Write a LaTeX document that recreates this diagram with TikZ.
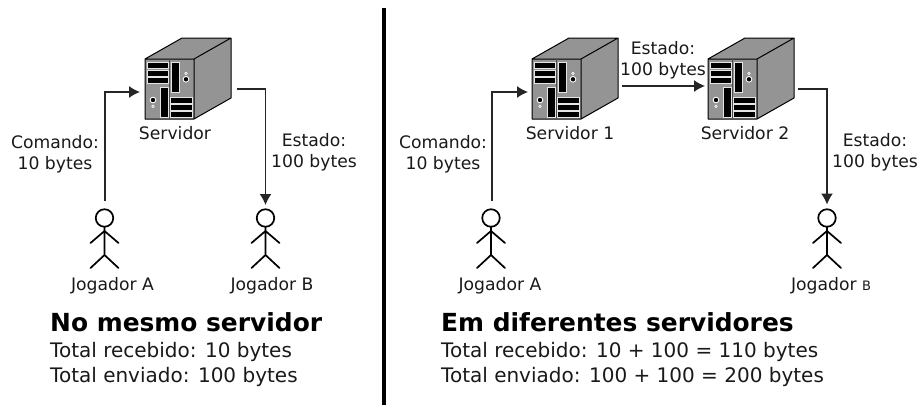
\documentclass[tikz,border=0pt]{standalone}
\usepackage{fontspec}
\setmainfont{DejaVu Sans}
\usetikzlibrary{arrows.meta}
\tikzset{
  lbl/.style={inner sep=0pt,font=\fontsize{17.2}{21}\selectfont,align=center,text=black!90},
  head/.style={inner sep=0pt,anchor=west,font=\fontsize{24.9}{28}\selectfont\bfseries},
  info/.style={inner sep=0pt,anchor=west,font=\fontsize{20}{24}\selectfont,text=black!90},
  conn/.style={draw=black!85,line width=1.3pt,-{Latex[length=11pt,width=12pt]}},
  srvbox/.style={inner sep=0pt,minimum width=86pt,minimum height=81pt},
  stick/.style={line width=1.7pt,line cap=round},
  actorhead/.style={circle,draw=black,line width=1.7pt,fill=white,inner sep=0pt,minimum size=17.5pt},
  slot/.style={draw=black!10,fill=black,line width=.8pt},
  pics/server/.style={code={
    \fill[black!42] (0,21)--(37,0)--(86,0)--(86,60)--(49,81)--(0,81)--cycle;
    \draw[line width=1pt,line join=round] (0,21)--(37,0)--(86,0)--(86,60)--(49,81)--(0,81)--cycle (0,21)--(49,21)--(86,0) (49,21)--(49,81);
    \draw[line width=.8pt,black!70] (24.5,21)--(24.5,81);
    \foreach \y in {24.5,32,39.5}{\draw[slot] (2,\y) rectangle (23.7,\y+6);}
    \foreach \y in {59,66.2,73.4}{\draw[slot] (25.5,\y) rectangle (47.7,\y+6);}
    \draw[slot] (26,24.3) rectangle (34,54.5);
    \draw[slot] (15,49.7) rectangle (23.7,79.7);
    \fill[white] (41,41.3) circle (3.3pt);
    \fill[black] (41,41.3) circle (2.2pt);
    \draw[white,line width=.6pt] (41,35.3) circle (1.3pt);
    \fill[white] (8,62) circle (3.3pt);
    \fill[black] (8,62) circle (2.2pt);
    \draw[white,line width=.6pt] (8,68.3) circle (1.3pt);
  }},
  pics/actor/.style={code={
    \draw[stick] (0,9)--(0,37) (-14,25)--(0,13)--(14,25) (-14,50)--(0,37)--(14,50);
    \node[actorhead] at (0,0) {};
  }}
}
\begin{document}
\begin{tikzpicture}[x=1pt,y=-1pt]
\useasboundingbox (0,0) rectangle (919,405);
% left
\node[srvbox] (srvL) at (188,78.5) {};
\pic at (145,38) {server};
\node[lbl] (srvLt) at (175,133) {Servidor};
\node[inner sep=0pt] (jA) at (104.5,218) {};
\pic at (104.5,218) {actor};
\node[inner sep=0pt] (jB) at (265.5,218) {};
\pic at (265.5,218) {actor};
\node[lbl] (jAt) at (112.5,285.5) {Jogador A};
\node[lbl] (jBt) at (272,285.5) {Jogador B};
\node[lbl] (cL) at (55,154) {Comando:\\10 bytes};
\node[lbl] (eL) at (314,152.5) {Estado:\\100 bytes};
\coordinate (aL) at (105,201);
\coordinate (aLe) at (140,92);
\coordinate (bLs) at (237,89);
\coordinate (bL) at (265.5,205);
\draw[conn] (aL) |- (aLe);
\draw[conn] (bLs) -| (bL);
\node[head] (hL) at (50,322) {No mesmo servidor};
\node[info] (i1L) at (50,351.5) {Total recebido: 10 bytes};
\node[info] (i2L) at (50,376.5) {Total enviado: 100 bytes};
% divider
\coordinate (d1) at (384,8);
\coordinate (d2) at (384,405);
\draw[line width=4pt] (d1)--(d2);
% right
\node[srvbox] (srv1) at (575,78.5) {};
\pic at (532,38) {server};
\node[lbl] (s1t) at (570,133) {Servidor 1};
\node[srvbox] (srv2) at (751,78.5) {};
\pic at (708,38) {server};
\node[lbl] (s2t) at (745,133) {Servidor 2};
\node[inner sep=0pt] (jA2) at (491,218) {};
\pic at (491,218) {actor};
\node[inner sep=0pt] (jB2) at (827,218) {};
\pic at (827,218) {actor};
\node[lbl] (jA2t) at (500,285.5) {Jogador A};
\node[lbl] (jB2t) at (831,285.5) {Jogador {\fontsize{13}{14}\selectfont B}};
\node[lbl] (c2) at (443,154) {Comando:\\10 bytes};
\node[lbl] (e1) at (663,60) {Estado:\\100 bytes};
\node[lbl] (e2) at (875,152.5) {Estado:\\100 bytes};
\coordinate (a2) at (492,201);
\coordinate (a2e) at (528,92);
\coordinate (m1) at (622,86);
\coordinate (m2) at (705,86);
\coordinate (b2s) at (798,89);
\coordinate (b2) at (827,204.5);
\draw[conn] (a2) |- (a2e);
\draw[conn] (m1) -- (m2);
\draw[conn] (b2s) -| (b2);
\node[head] (hR) at (441,322) {Em diferentes servidores};
\node[info] (i1R) at (441,351.5) {Total recebido: 10 + 100 = 110 bytes};
\node[info] (i2R) at (441,376.5) {Total enviado: 100 + 100 = 200 bytes};
\end{tikzpicture}
\end{document}
